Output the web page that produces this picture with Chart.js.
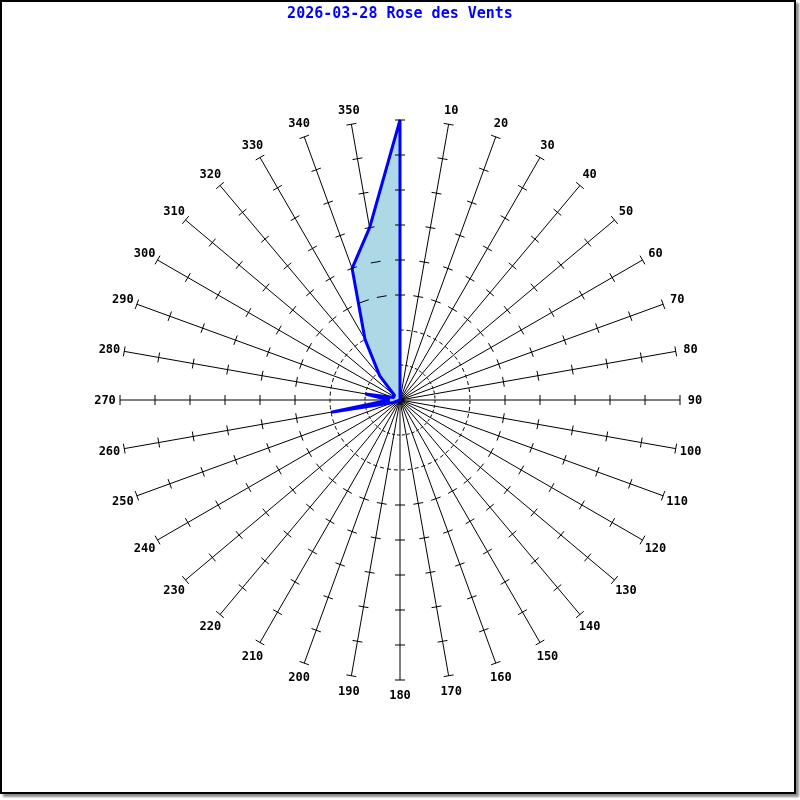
<!DOCTYPE html>
<html>
<head>
<meta charset="utf-8">
<script src="https://cdn.jsdelivr.net/npm/chart.js@4/dist/chart.umd.min.js"></script>
<style>
    body { margin: 0; background: #fff; }
    #frame {
        position: absolute; left: 0; top: 0;
        width: 792px; height: 790px;
        border: 2px solid #000;
        box-shadow: 3px 3px 2px rgba(0, 0, 0, 0.45);
    }
    #roseChart { position: absolute; left: 0; top: 0; }
</style>
</head>
<body>
<div id="frame"></div>
<canvas id="roseChart" width="800" height="800"></canvas>
<script>
// Directions (degrees) and the labels written around the rose
const directions = [0, 10, 20, 30, 40, 50, 60, 70, 80, 90, 100, 110, 120, 130, 140, 150, 160, 170,
    180, 190, 200, 210, 220, 230, 240, 250, 260, 270, 280, 290, 300, 310, 320, 330, 340, 350];
const dirLabels = ['', '10', '20', '30', '40', '50', '60', '70', '80', '90', '100', '110', '120', '130', '140', '150', '160', '170',
    '180', '190', '200', '210', '220', '230', '240', '250', '260', '270', '280', '290', '300', '310', '320', '330', '340', '350'];

// Wind frequency per direction (scale 0..8)
const windValues = [8, 0, 0, 0, 0, 0, 0, 0, 0, 0, 0, 0, 0, 0, 0, 0, 0, 0,
    0, 0, 0, 0, 0, 0, 0, 0.2, 2, 0.3, 1, 0.2, 0.2, 0.2, 0.9, 2, 4, 5];

// Radial ticks: circles drawn for the inner ones, cross marks for the rest
const circleTicks = [1, 2];
const markTicks = [3, 4, 5, 6, 7, 8];

// spoke tick marks + direction labels, drawn over everything
const rosePlugin = {
    id: 'rosePlugin',
    afterDraw(chart) {
        const scale = chart.scales.r;
        const ctx = chart.ctx;
        ctx.save();
        ctx.strokeStyle = '#000';
        ctx.lineWidth = 1;
        directions.forEach((d, i) => {
            const a = scale.getIndexAngle(i) - Math.PI / 2;
            const px = -Math.sin(a), py = Math.cos(a);
            markTicks.forEach(v => {
                const p = scale.getPointPosition(i, scale.getDistanceFromCenterForValue(v));
                ctx.beginPath();
                ctx.moveTo(p.x - 5 * px, p.y - 5 * py);
                ctx.lineTo(p.x + 5 * px, p.y + 5 * py);
                ctx.stroke();
            });
        });
        ctx.fillStyle = '#000';
        ctx.font = 'bold 12px "DejaVu Sans Mono", monospace';
        ctx.textAlign = 'center';
        ctx.textBaseline = 'middle';
        dirLabels.forEach((lbl, i) => {
            if (!lbl) return;
            const p = scale.getPointPosition(i, scale.drawingArea + 15);
            ctx.fillText(lbl, p.x, p.y + 1);
        });
        ctx.restore();
    }
};

const ctx = document.getElementById('roseChart').getContext('2d');
const roseChart = new Chart(ctx, {
    type: 'radar',
    data: {
        labels: dirLabels,
        datasets: [{
            data: windValues,
            borderColor: '#0000ff',
            backgroundColor: '#add8e6',
            borderWidth: 3,
            borderJoinStyle: 'bevel',
            fill: true,
            tension: 0,
            pointRadius: 0,
            pointHoverRadius: 0
        }]
    },
    options: {
        responsive: false,
        animation: false,
        devicePixelRatio: 1,
        layout: { padding: { left: 120, right: 120, bottom: 120, top: 0 } },
        plugins: {
            legend: { display: false },
            tooltip: { enabled: false },
            title: {
                display: true,
                text: '2026-03-28 Rose des Vents',
                color: '#0000ff',
                font: { family: '"DejaVu Sans Mono", monospace', size: 15, weight: 'bold' },
                padding: { top: 5, bottom: 97 }
            }
        },
        scales: {
            r: {
                min: 0,
                max: 8,
                z: 1,
                ticks: { display: false, stepSize: 1 },
                pointLabels: { display: false },
                angleLines: { display: true, color: '#000', lineWidth: 1 },
                grid: {
                    circular: true,
                    color: c => circleTicks.includes(c.tick.value) ? '#000' : null,
                    lineWidth: c => circleTicks.includes(c.tick.value) ? 1 : 0
                },
                border: {
                    dash: c => c.tick && c.tick.value === 1 ? [3, 2] : [4, 3]
                }
            }
        }
    },
    plugins: [rosePlugin]
});
</script>
</body>
</html>
